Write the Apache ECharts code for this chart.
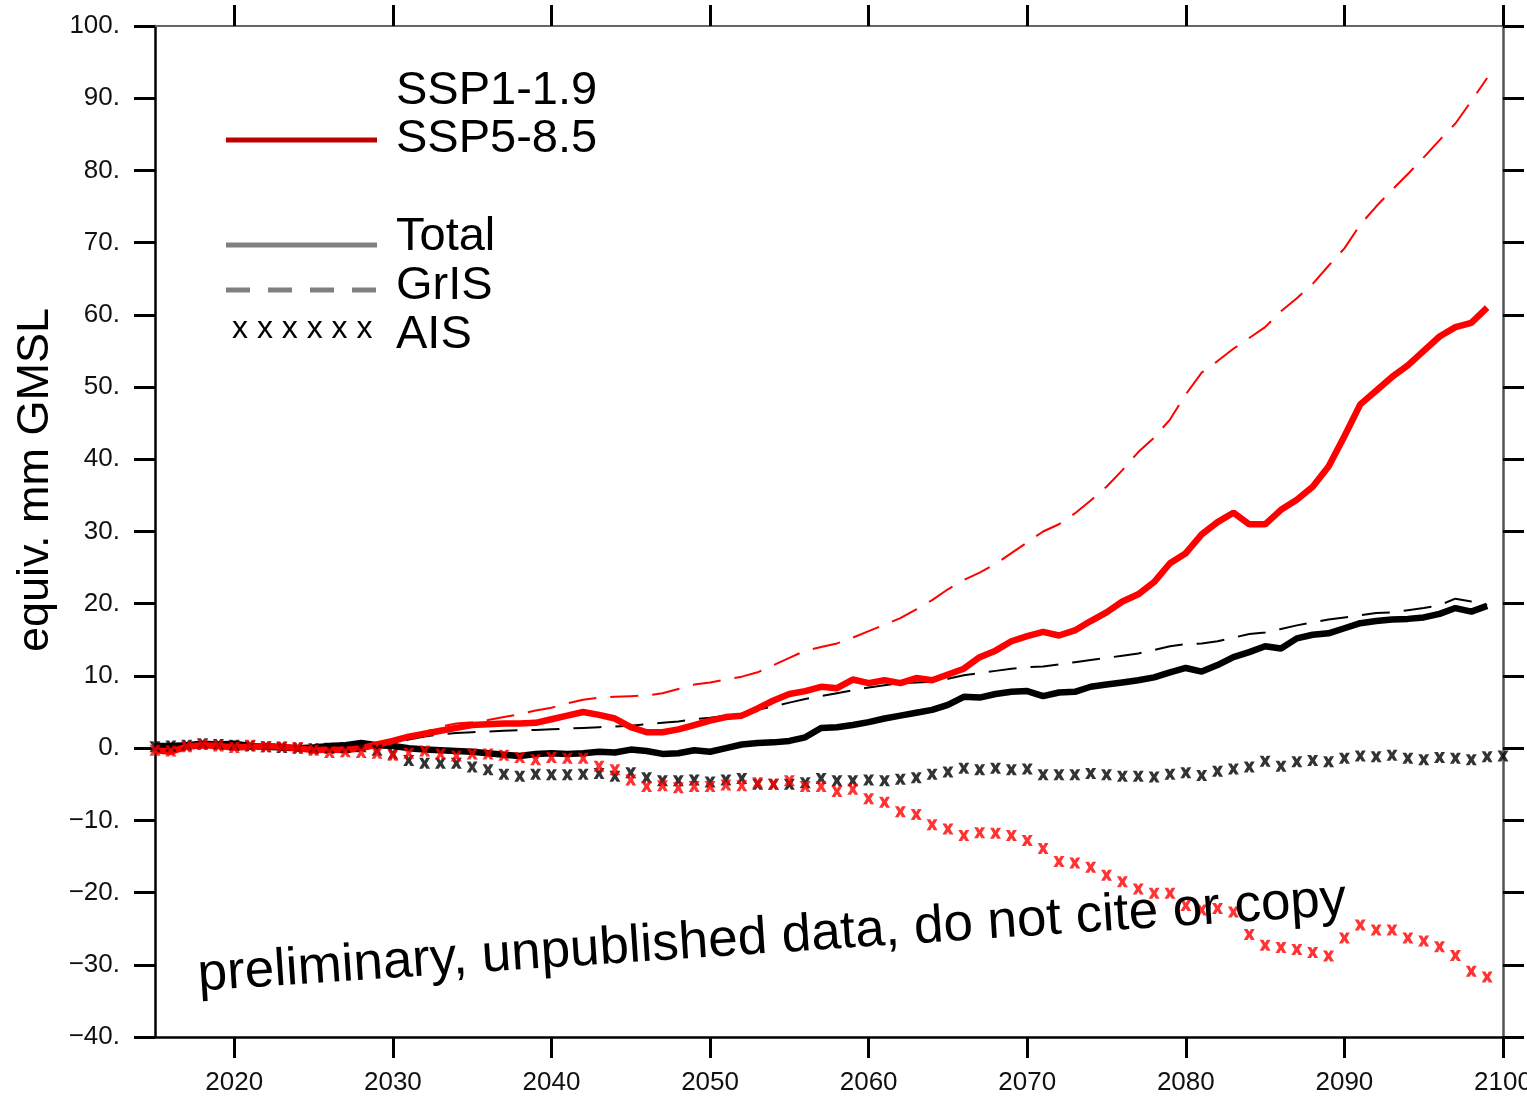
<!DOCTYPE html>
<html>
<head>
<meta charset="utf-8">
<script src="https://cdn.jsdelivr.net/npm/echarts@6/dist/echarts.min.js"></script>
<style>
html,body{margin:0;padding:0;background:#fff;}
#chart{width:1527px;height:1097px;}
</style>
</head>
<body>
<div id="chart"></div>
<script>
// ---- data (2015 .. 2099, annual; black AIS extends to 2100) ----
var startYear = 2015;
var xTicks = [2020, 2030, 2040, 2050, 2060, 2070, 2080, 2090, 2100];
var yTicks = [-40, -30, -20, -10, 0, 10, 20, 30, 40, 50, 60, 70, 80, 90, 100];

// SSP5-8.5 (red)
var total585 = [
  -0.3, -0.5, 0.2, 0.4, 0.3, 0.1, 0.2, 0.3, 0.2, 0.0,
  -0.3, -0.2, -0.3, 0.0, 0.5, 1.0, 1.6, 2.0, 2.4, 2.8,
  3.2, 3.3, 3.4, 3.4, 3.5, 4.0, 4.5, 5.0, 4.6, 4.1,
  2.9, 2.2, 2.2, 2.6, 3.2, 3.8, 4.3, 4.5, 5.5, 6.6,
  7.5, 7.9, 8.5, 8.3, 9.5, 9.0, 9.4, 9.0, 9.7, 9.4,
  10.2, 11.0, 12.6, 13.5, 14.8, 15.5, 16.1, 15.6, 16.3, 17.6,
  18.8, 20.3, 21.3, 23.0, 25.6, 27.0, 29.6, 31.3, 32.6, 31.0,
  31.0, 33.0, 34.4, 36.2, 39.0, 43.2, 47.6, 49.5, 51.4, 53.0,
  55.0, 57.0, 58.3, 58.9, 61.0
];
var gris585 = [
  -0.2, -0.3, 0.2, 0.4, 0.3, 0.1, 0.2, 0.3, 0.2, 0.0,
  -0.2, -0.1, -0.1, 0.1, 0.3, 0.8, 1.5, 2.2, 3.0, 3.4,
  3.6, 3.9, 4.3, 4.7, 5.2, 5.6, 6.2, 6.7, 7.0, 7.1,
  7.2, 7.3, 7.6, 8.2, 8.8, 9.1, 9.5, 9.9, 10.5, 11.5,
  12.5, 13.5, 14.0, 14.5, 15.3, 16.2, 17.1, 18.0, 19.2, 20.5,
  22.0, 23.3, 24.3, 25.5, 27.0, 28.5, 30.0, 31.0, 32.5, 34.3,
  36.2, 38.5, 41.0, 43.0, 45.5, 49.0, 52.0, 53.6, 55.3, 56.8,
  58.3, 60.5, 62.3, 64.3, 66.8, 69.2, 72.5, 75.0, 77.3, 79.5,
  81.8, 84.2, 86.5, 89.6, 92.8
];
var ais585 = [
  -0.3, -0.4, 0.2, 0.5, 0.3, 0.1, 0.4, 0.2, 0.2, 0.1,
  -0.3, -0.6, -0.5, -0.6, -0.7, -1.0, -0.7, -0.4, -0.8, -1.1,
  -0.8, -0.8, -1.0, -1.3, -1.6, -1.3, -1.4, -1.4, -2.5, -3.0,
  -4.4, -5.3, -5.2, -5.5, -5.3, -5.3, -5.1, -5.2, -4.8, -5.0,
  -4.5, -5.3, -5.3, -6.0, -5.7, -7.0, -7.5, -8.8, -9.2, -10.6,
  -11.2, -12.1, -11.7, -11.8, -12.1, -12.8, -13.9, -15.7, -15.9, -16.5,
  -17.6, -18.5, -19.5, -20.1, -20.1, -21.8, -22.4, -22.2, -22.7, -25.8,
  -27.3, -27.6, -27.9, -28.3, -28.8, -26.3, -24.5, -25.2, -25.2, -26.3,
  -26.7, -27.5, -28.7, -30.9, -31.7
];

// SSP1-1.9 (black)
var total119 = [
  0.3, 0.3, 0.4, 0.6, 0.5, 0.6, 0.3, 0.2, 0.1, 0.0,
  0.1, 0.3, 0.4, 0.7, 0.4, 0.3, 0.0, -0.2, -0.3, -0.4,
  -0.5, -0.7, -0.9, -1.1, -0.8, -0.7, -0.8, -0.7, -0.5, -0.6,
  -0.2, -0.4, -0.8, -0.7, -0.3, -0.5, 0.0, 0.5, 0.7, 0.8,
  1.0, 1.5, 2.8, 2.9, 3.2, 3.6, 4.1, 4.5, 4.9, 5.3,
  6.0, 7.1, 7.0, 7.5, 7.8, 7.9, 7.2, 7.7, 7.8, 8.5,
  8.8, 9.1, 9.4, 9.8, 10.5, 11.1, 10.6, 11.5, 12.6, 13.3,
  14.1, 13.8, 15.2, 15.7, 15.9, 16.6, 17.3, 17.6, 17.8, 17.9,
  18.1, 18.6, 19.4, 18.9, 19.7
];
var gris119 = [
  0.3, 0.3, 0.4, 0.6, 0.5, 0.5, 0.3, 0.2, 0.1, 0.0,
  0.0, 0.1, 0.2, 0.3, 0.3, 0.6, 1.2, 1.6, 1.9, 2.1,
  2.2, 2.3, 2.4, 2.5, 2.5, 2.6, 2.7, 2.8, 2.9, 3.0,
  3.1, 3.3, 3.5, 3.7, 4.0, 4.2, 4.5, 4.8, 5.3, 5.8,
  6.3, 6.8, 7.2, 7.6, 8.0, 8.4, 8.7, 9.0, 9.1, 9.2,
  9.6, 10.1, 10.4, 10.7, 11.0, 11.2, 11.3, 11.6, 11.9, 12.2,
  12.5, 12.8, 13.1, 13.6, 14.1, 14.4, 14.5, 14.8, 15.3, 15.8,
  16.0, 16.5, 17.0, 17.4, 17.8, 18.1, 18.4, 18.7, 18.8, 19.1,
  19.4, 19.8, 20.7, 20.3, 19.8
];
var ais119 = [
  0.2, 0.3, 0.4, 0.6, 0.5, 0.4, 0.3, 0.2, 0.1, 0.0,
  -0.1, 0.0, 0.1, 0.2, -0.3, -0.8, -1.7, -2.1, -2.1, -2.1,
  -2.6, -3.0, -3.6, -3.9, -3.6, -3.7, -3.7, -3.6, -3.5, -3.9,
  -3.4, -4.1, -4.5, -4.5, -4.4, -4.7, -4.4, -4.2, -5.0, -5.0,
  -5.0, -4.8, -4.2, -4.5, -4.5, -4.4, -4.5, -4.3, -4.1, -3.6,
  -3.3, -2.8, -3.0, -2.8, -3.0, -2.9, -3.7, -3.7, -3.7, -3.5,
  -3.7, -3.9, -3.9, -4.0, -3.6, -3.4, -3.8, -3.2, -2.9, -2.6,
  -1.8, -2.5, -1.9, -1.7, -1.9, -1.4, -1.1, -1.2, -1.0, -1.4,
  -1.6, -1.3, -1.4, -1.6, -1.2, -1.1
];

var legendScenarios = ['SSP1-1.9', 'SSP5-8.5'];
var legendComponents = ['Total', 'GrIS', 'AIS'];
var yAxisTitle = 'equiv. mm GMSL';
var watermark = 'preliminary, unpublished data, do not cite or copy';

function pairs(arr) {
  var out = [];
  for (var i = 0; i < arr.length; i++) out.push([startYear + i, arr[i]]);
  return out;
}

var crossPath = 'path://M0,0 L3.4,0 L5,2.6 L6.6,0 L10,0 L7,5 L10,10 L6.6,10 L5,7.4 L3.4,10 L0,10 L3,5 Z';

var chart = echarts.init(document.getElementById('chart'), null, {renderer: 'canvas'});

var FONT = '"Liberation Sans", Arial, Helvetica, sans-serif';

var option = {
  animation: false,
  backgroundColor: '#ffffff',
  grid: {left: 155, top: 26, right: 24, bottom: 60, containLabel: false, outerBoundsMode: 'none'},
  xAxis: [{
    type: 'value', min: 2015, max: 2100, position: 'bottom',
    axisLine: {show: true, onZero: false, lineStyle: {color: '#000', width: 2.5}},
    axisTick: {show: true, inside: false, length: 21, customValues: xTicks, lineStyle: {color: '#000', width: 3}},
    axisLabel: {show: true, customValues: xTicks, margin: 33, fontSize: 26, color: '#111', fontFamily: FONT,
      hideOverlap: false, showMaxLabel: true,
      formatter: function (v) { return String(v); }},
    splitLine: {show: false}
  }, {
    type: 'value', min: 2015, max: 2100, position: 'top',
    axisLine: {show: true, onZero: false, lineStyle: {color: '#666', width: 2}},
    axisTick: {show: true, inside: false, length: 21, customValues: xTicks, lineStyle: {color: '#000', width: 3}},
    axisLabel: {show: false},
    splitLine: {show: false}
  }],
  yAxis: [{
    type: 'value', min: -40, max: 100, interval: 10, position: 'left',
    axisLine: {show: true, onZero: false, lineStyle: {color: '#000', width: 2.5}},
    axisTick: {show: true, inside: false, length: 21, lineStyle: {color: '#000', width: 3}},
    axisLabel: {show: true, margin: 35, fontSize: 26, color: '#111', fontFamily: FONT,
      formatter: function (v) { return (v < 0 ? '\u2212' + Math.abs(v) : String(v)) + '.'; }},
    splitLine: {show: false}
  }, {
    type: 'value', min: -40, max: 100, interval: 10, position: 'right',
    axisLine: {show: true, onZero: false, lineStyle: {color: '#555', width: 2.5}},
    axisTick: {show: true, inside: false, length: 21, lineStyle: {color: '#000', width: 3}},
    axisLabel: {show: false},
    splitLine: {show: false}
  }],
  series: [
    {name: 'GrIS SSP1-1.9', type: 'line', data: pairs(gris119), showSymbol: false, symbol: 'none',
      lineStyle: {color: '#000', width: 2, type: [28, 14]}, z: 2},
    {name: 'Total SSP1-1.9', type: 'line', data: pairs(total119), showSymbol: false, symbol: 'none',
      lineStyle: {color: '#000', width: 6.5}, z: 3},
    {name: 'GrIS SSP5-8.5', type: 'line', data: pairs(gris585), showSymbol: false, symbol: 'none',
      lineStyle: {color: '#ff0000', width: 2, type: [28, 14]}, z: 4},
    {name: 'Total SSP5-8.5', type: 'line', data: pairs(total585), showSymbol: false, symbol: 'none',
      lineStyle: {color: '#ff0000', width: 6.5}, z: 5},
    {name: 'AIS SSP1-1.9', type: 'scatter', data: pairs(ais119), symbol: crossPath, symbolSize: 11,
      itemStyle: {color: '#000'}, z: 6},
    {name: 'AIS SSP5-8.5', type: 'scatter', data: pairs(ais585), symbol: crossPath, symbolSize: 11,
      itemStyle: {color: '#ff0000'}, z: 7}
  ],
  graphic: [
    // y-axis title
    {type: 'text', x: 36, y: 480, rotation: Math.PI / 2,
      style: {text: yAxisTitle, fontSize: 45, fontFamily: FONT, fill: '#000', align: 'center', verticalAlign: 'middle'}},
    // legend
    {type: 'text', x: 396, y: 91, style: {text: legendScenarios[0], fontSize: 47, fontFamily: FONT, fill: '#000', verticalAlign: 'middle'}},
    {type: 'line', shape: {x1: 226, y1: 140, x2: 377, y2: 140}, style: {stroke: '#c00000', lineWidth: 5}},
    {type: 'text', x: 396, y: 139, style: {text: legendScenarios[1], fontSize: 47, fontFamily: FONT, fill: '#000', verticalAlign: 'middle'}},
    {type: 'line', shape: {x1: 226, y1: 245, x2: 377, y2: 245}, style: {stroke: '#808080', lineWidth: 5}},
    {type: 'text', x: 396, y: 237, style: {text: legendComponents[0], fontSize: 47, fontFamily: FONT, fill: '#000', verticalAlign: 'middle'}},
    {type: 'line', shape: {x1: 226, y1: 290, x2: 377, y2: 290}, style: {stroke: '#808080', lineWidth: 5, lineDash: [24, 18]}},
    {type: 'text', x: 396, y: 286, style: {text: legendComponents[1], fontSize: 47, fontFamily: FONT, fill: '#000', verticalAlign: 'middle'}},
    {type: 'text', x: 232, y: 329, style: {text: 'x x x x x x', fontSize: 32, fontFamily: FONT, fill: '#000', verticalAlign: 'middle'}},
    {type: 'text', x: 396, y: 335, style: {text: legendComponents[2], fontSize: 47, fontFamily: FONT, fill: '#000', verticalAlign: 'middle'}},
    // watermark
    {type: 'text', x: 772, y: 938, rotation: 0.066, z: 100,
      style: {text: watermark, fontSize: 53, fontFamily: FONT, fill: '#000', align: 'center', verticalAlign: 'middle'}}
  ]
};

chart.setOption(option);
</script>
</body>
</html>
